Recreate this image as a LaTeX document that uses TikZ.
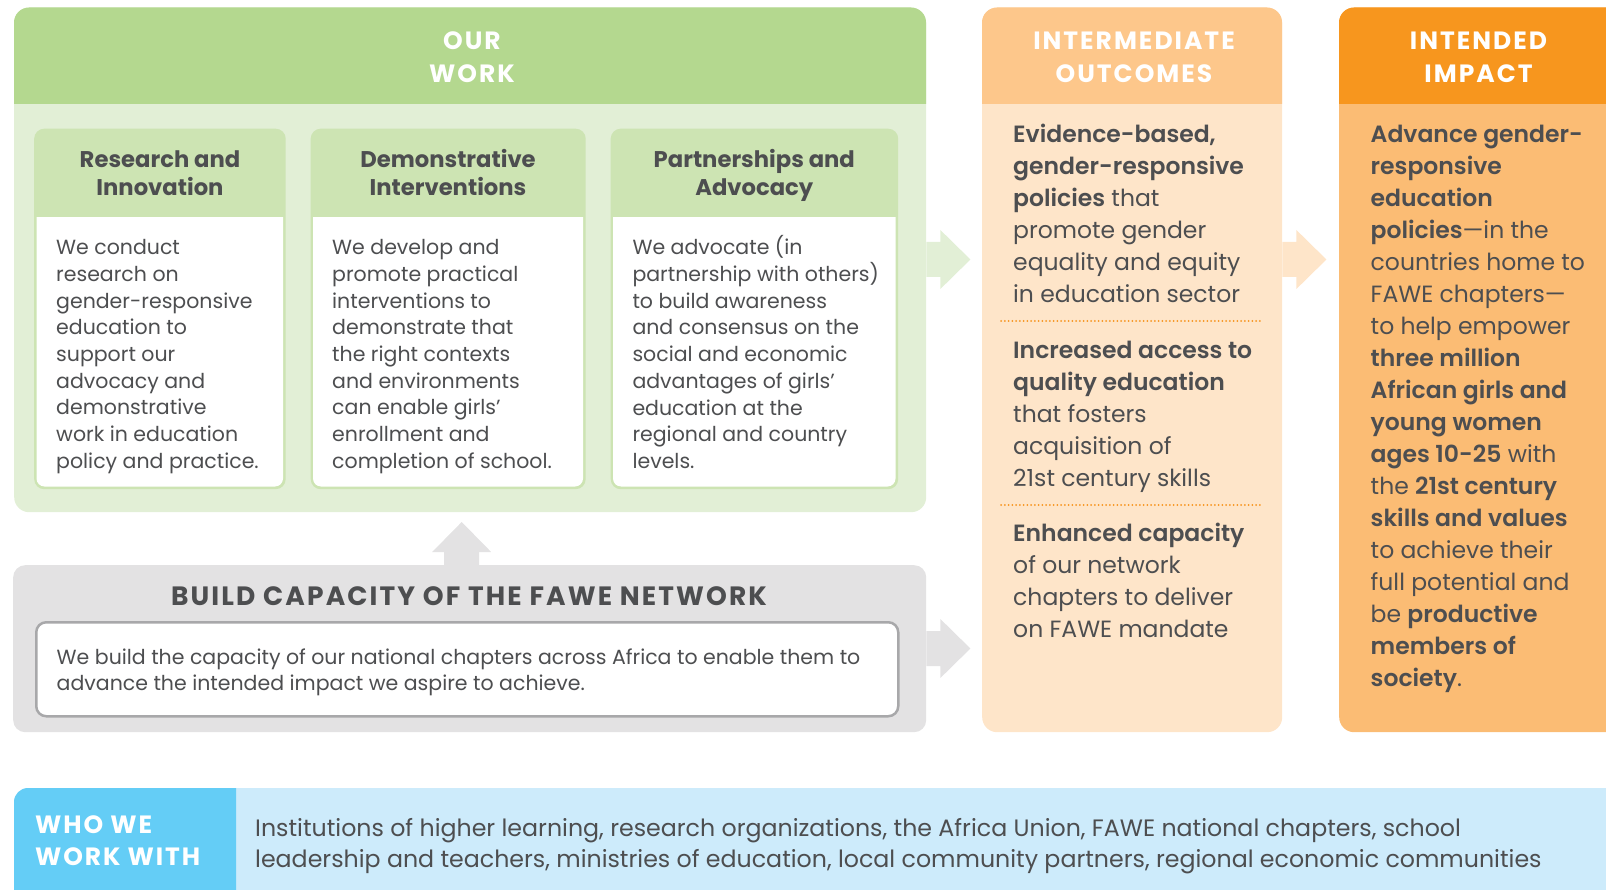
\documentclass[tikz,border=0pt]{standalone}
\usepackage{fontspec}
\setmainfont{Poppins}[BoldFont={Poppins SemiBold}]
\newfontfamily\capsfont{Poppins Bold}[LetterSpace=8]
\newfontfamily\whofont{Poppins Bold}[LetterSpace=7.5]
\newfontfamily\cardheadfont{Poppins Bold}
\usetikzlibrary{calc}

% first-line strut: fixes the baseline of a text block below its top edge
\newcommand\firststrut[1]{\rule{0pt}{#1}}

\definecolor{ink}{HTML}{4D4E50}
\definecolor{workhead}{HTML}{B4D88F}
\definecolor{workbody}{HTML}{E2EFD6}
\definecolor{cardgreen}{HTML}{CDE4B3}
\definecolor{outhead}{HTML}{FDC78B}
\definecolor{outbody}{HTML}{FEE5C9}
\definecolor{imphead}{HTML}{F7961E}
\definecolor{impbody}{HTML}{FBBC74}
\definecolor{dots}{HTML}{F7941D}
\definecolor{capgray}{HTML}{E3E2E3}
\definecolor{boxrule}{HTML}{A8A8AA}
\definecolor{whodark}{HTML}{64CDF6}
\definecolor{wholight}{HTML}{CDEBFB}

\tikzset{
  panelbox/.style={rectangle, inner sep=0pt, draw=none},
  txt/.style={anchor=north west, inner sep=0pt, align=left, text=ink},
  cardtxt/.style={txt, font=\fontsize{20.5}{26.7}\selectfont},
  bigtxt/.style={txt, font=\fontsize{23.5}{32}\selectfont},
  headtxt/.style={anchor=north, inner sep=0pt, align=center, text=white,
    font=\capsfont\fontsize{25}{33.2}\selectfont},
  cardhead/.style={anchor=north, inner sep=0pt, align=center, text=ink,
    font=\cardheadfont\fontsize{22.7}{28.3}\selectfont},
  dotline/.style={draw=dots, line width=2pt, line cap=round,
    dash pattern=on 0pt off 3.75pt},
  pics/rarrow/.style={code={
    \fill (0,-17.5) -- (14,-17.5) -- (14,-29.5) -- (44,0) -- (14,29.5)
      -- (14,17.5) -- (0,17.5) -- cycle;}},
  pics/uarrow/.style={code={
    \fill (-17.5,0) -- (-17.5,-13) -- (-29.5,-13) -- (0,-43) -- (29.5,-13)
      -- (17.5,-13) -- (17.5,0) -- cycle;}},
}

\begin{document}
\begin{tikzpicture}[x=1pt,y=-1pt]
\useasboundingbox (0,0) rectangle (1606,890);
\clip (0,0) rectangle (1606,890);

% ---------- Our work ----------
\node[panelbox, fill=workbody, rounded corners=15, minimum width=912pt,
  minimum height=504.5pt, anchor=north west] (work) at (14,7.5) {};
\begin{scope}
  \clip (14,7.5) rectangle (926,104);
  \fill[workhead, rounded corners=15] (14,7.5) rectangle (926,140);
\end{scope}
\node[headtxt] (workt) at (472,28.5) {\firststrut{21pt}OUR\\WORK};

% three activity cards
\foreach \nm/\xa/\xb in {c1/34/285.5, c2/310.5/585.5, c3/610.5/898}{
  \node[panelbox, fill=cardgreen, rounded corners=10,
    minimum width=\xb pt-\xa pt, minimum height=360.5pt, anchor=north west]
    (\nm) at (\xa,128.5) {};
  \begin{scope}
    \clip (\xa+2.5,217.3) rectangle (\xb-2.5,490);
    \fill[white, rounded corners=8] (\xa+2.5,190) rectangle (\xb-2.5,486.5);
  \end{scope}
}
\node[cardhead] (h1) at (160,147.5) {\firststrut{19.5pt}Research and\\Innovation};
\node[cardhead] (h2) at (448,147.5) {\firststrut{19.5pt}Demonstrative\\Interventions};
\node[cardhead] (h3) at (754.3,147.5) {\firststrut{19.5pt}Partnerships and\\Advocacy};

\node[cardtxt] (t1) at (56,235.5) {\firststrut{19pt}We conduct\\research on\\gender-responsive\\education to\\support our\\advocacy and\\demonstrative\\work in education\\policy and practice.};
\node[cardtxt] (t2) at (332,235.5) {\firststrut{19pt}We develop and\\promote practical\\interventions to\\demonstrate that\\the right contexts\\and environments\\can enable girls’\\enrollment and\\completion of school.};
\node[cardtxt] (t3) at (632.3,235.5) {\firststrut{19pt}We advocate (in\\partnership with others)\\to build awareness\\and consensus on the\\social and economic\\advantages of girls’\\education at the\\regional and country\\levels.};

% ---------- Build capacity ----------
\node[panelbox, fill=capgray, rounded corners=12, minimum width=913pt,
  minimum height=167pt, anchor=north west] (cap) at (13,565) {};
\node[anchor=base, inner sep=0pt, text=ink, font=\capsfont\fontsize{26.5}{30}\selectfont]
  (capt) at (469,605) {BUILD CAPACITY OF THE FAWE NETWORK};
\node[panelbox, fill=white, draw=boxrule, line width=2.5pt, rounded corners=10,
  minimum width=862pt, minimum height=94pt, anchor=north west] (capbox) at (35,621) {};
\node[txt, font=\fontsize{20.5}{26}\selectfont] (capx) at (56.5,645.2)
  {\firststrut{19pt}We build the capacity of our national chapters across Africa to enable them to\\advance the intended impact we aspire to achieve.};

% ---------- Intermediate outcomes ----------
\node[panelbox, fill=outbody, rounded corners=15, minimum width=300pt,
  minimum height=724.5pt, anchor=north west] (outc) at (982,7.5) {};
\begin{scope}
  \clip (982,7.5) rectangle (1282,104);
  \fill[outhead, rounded corners=15] (982,7.5) rectangle (1282,140);
\end{scope}
\node[headtxt] (outt) at (1134,28.5) {\firststrut{21pt}INTERMEDIATE\\OUTCOMES};
\node[bigtxt] (o1) at (1013,121.5) {\firststrut{21pt}\textbf{Evidence-based,}\\\textbf{gender-responsive}\\\textbf{policies} that\\promote gender\\equality and equity\\in education sector};
\coordinate (d1a) at (1001,321);
\coordinate (d1b) at (1263,321);
\draw[dotline] (d1a) -- (d1b);
\node[bigtxt] (o2) at (1013,337) {\firststrut{21pt}\textbf{Increased access to}\\\textbf{quality education}\\that fosters\\acquisition of\\21st century skills};
\coordinate (d2a) at (1001,505);
\coordinate (d2b) at (1263,505);
\draw[dotline] (d2a) -- (d2b);
\node[bigtxt] (o3) at (1013,520.5) {\firststrut{21pt}\textbf{Enhanced capacity}\\of our network\\chapters to deliver\\on FAWE mandate};

% ---------- Intended impact ----------
\node[panelbox, fill=impbody, rounded corners=15, minimum width=286pt,
  minimum height=724.5pt, anchor=north west] (imp) at (1339,7.5) {};
\begin{scope}
  \clip (1339,7.5) rectangle (1625,104);
  \fill[imphead, rounded corners=15] (1339,7.5) rectangle (1625,140);
\end{scope}
\node[headtxt] (impt) at (1478.5,28.5) {\firststrut{21pt}INTENDED\\IMPACT};
\node[bigtxt] (impx) at (1370.5,121.6) {\firststrut{21pt}\textbf{Advance gender-}\\\textbf{responsive}\\\textbf{education}\\\textbf{policies}—in the\\countries home to\\FAWE chapters—\\to help empower\\\textbf{three million}\\\textbf{African girls and}\\\textbf{young women}\\\textbf{ages 10-25} with\\the \textbf{21st century}\\\textbf{skills and values}\\to achieve their\\full potential and\\be \textbf{productive}\\\textbf{members of}\\\textbf{society}.};

% ---------- Block arrows ----------
\pic[fill=workbody] at (work.east |- 0,259.5) {rarrow};
\pic[fill=outbody] at (outc.east |- 0,259.5) {rarrow};
\pic[fill=capgray] at (cap.east |- 0,648.5) {rarrow};
\pic[fill=capgray] at ($(cap.north)+(-8,0)$) {uarrow};

% ---------- Who we work with ----------
\node[panelbox, fill=wholight, rounded corners=14, minimum width=1611pt,
  minimum height=120pt, anchor=north west] (who) at (14,788) {};
\begin{scope}
  \clip (14,788) rectangle (236,890);
  \fill[whodark, rounded corners=14] (14,788) rectangle (270,920);
\end{scope}
\node[txt, text=white, font=\whofont\fontsize{25}{32}\selectfont] (whot) at (35,811)
  {\firststrut{22pt}WHO WE\\WORK WITH};
\node[txt, font=\fontsize{23.7}{31}\selectfont] (whox) at (255,815.5)
  {\firststrut{21pt}Institutions of higher learning, research organizations, the Africa Union, FAWE national chapters, school\\leadership and teachers, ministries of education, local community partners, regional economic communities};

\end{tikzpicture}
\end{document}
